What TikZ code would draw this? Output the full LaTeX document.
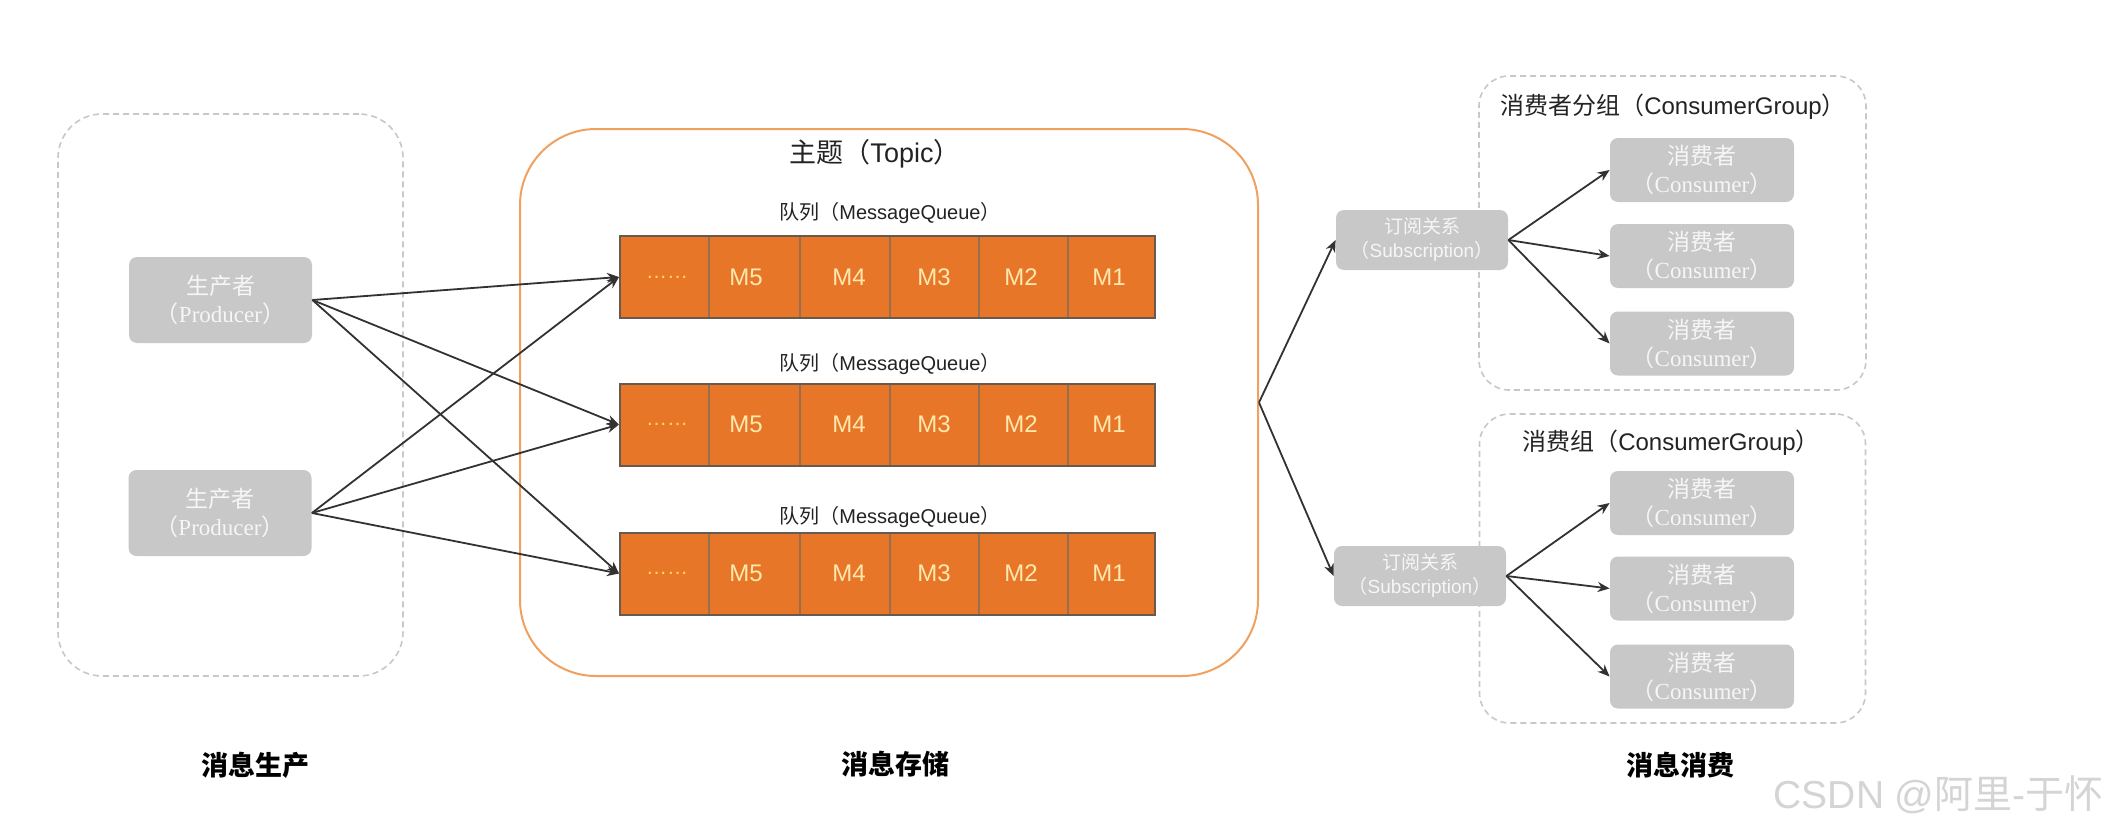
\documentclass[tikz,border=0pt]{standalone}
\usepackage{fontspec}
\setmainfont{Liberation Sans}
\newfontfamily\cjk{Noto Sans CJK SC}
\newfontfamily\serifl{Liberation Serif}
\usetikzlibrary{arrows.meta}
\definecolor{qorange}{RGB}{232,118,40}
\definecolor{qborder}{RGB}{105,90,80}
\definecolor{qdiv}{RGB}{150,110,80}
\definecolor{qtext}{RGB}{255,233,175}
\definecolor{qdots}{RGB}{255,215,90}
\definecolor{topicline}{RGB}{240,160,95}
\definecolor{boxgray}{RGB}{200,200,200}
\definecolor{dashgray}{RGB}{200,200,200}
\definecolor{boxtext}{RGB}{246,246,246}
\definecolor{arrowc}{RGB}{50,50,50}
\definecolor{titlec}{RGB}{35,35,35}
\definecolor{wmark}{RGB}{212,212,212}
\begin{document}
\begin{tikzpicture}[x=0.5pt,y=-0.5pt,
  dashbox/.style={draw=dashgray, line width=0.8pt, dash pattern=on 3pt off 2pt, rounded corners=#1, inner sep=0pt},
  topicbox/.style={draw=topicline, line width=1pt, rounded corners=38pt, inner sep=0pt},
  graybox/.style={fill=boxgray, rounded corners=4pt, inner sep=0pt, text=boxtext, align=center},
  prodbox/.style={graybox, minimum width=91.5pt, minimum height=43pt, font=\fontsize{11.5pt}{14pt}\selectfont},
  consbox/.style={graybox, minimum width=92pt, minimum height=32pt, font=\fontsize{11.5pt}{14pt}\selectfont},
  subbox/.style={graybox, minimum width=86pt, minimum height=30pt, font=\fontsize{9.5pt}{12pt}\selectfont},
  queuebox/.style={fill=qorange, draw=qborder, line width=1pt, minimum width=267.5pt, minimum height=41pt, inner sep=0pt},
  celldiv/.style={draw=qdiv, line width=0.7pt},
  mtext/.style={text=qtext, font=\fontsize{12pt}{14pt}\selectfont, inner sep=0pt},
  dotstext/.style={text=qdots, font=\fontsize{10.5pt}{12pt}\selectfont, inner sep=0pt},
  qlabel/.style={text=titlec, font=\fontsize{10pt}{12pt}\selectfont, inner sep=0pt},
  grouptitle/.style={text=titlec, font=\fontsize{12pt}{14pt}\selectfont, inner sep=0pt},
  bottomlabel/.style={text=black, font=\fontsize{13.5pt}{16pt}\selectfont\cjk\bfseries, inner sep=0pt},
  arr/.style={draw=arrowc, line width=0.9pt, -{Stealth[length=6pt,width=5pt]}}
]
\useasboundingbox[fill=white] (0,0) rectangle (2106,830);

% containers
\node[dashbox=22pt, minimum width=172.5pt, minimum height=281pt] (prodgroup) at (230.5,395) {};
\node[topicbox, minimum width=369pt, minimum height=273.5pt] (topic) at (889,402.5) {};
\node[dashbox=15pt, minimum width=193.5pt, minimum height=157pt] (cg1) at (1672.5,233) {};
\node[dashbox=15pt, minimum width=193pt, minimum height=154.5pt] (cg2) at (1672.5,568.5) {};

% titles
\node[text=titlec, font=\fontsize{13.5pt}{16pt}\selectfont, inner sep=0pt] (topictitle) at (875,154) {{\cjk 主题（}Topic{\cjk ）}};
\node[grouptitle] (cg1title) at (1673,107) {{\cjk 消费者分组（}ConsumerGroup{\cjk ）}};
\node[grouptitle] (cg2title) at (1671,443) {{\cjk 消费组（}ConsumerGroup{\cjk ）}};

% producers
\node[prodbox] (p1) at (220.5,300) {{\cjk 生产者}\\{\cjk （}{\serifl Producer}{\cjk ）}};
\node[prodbox] (p2) at (220,513) {{\cjk 生产者}\\{\cjk （}{\serifl Producer}{\cjk ）}};

% queues
\foreach \i/\y/\ly in {1/277/213,2/424.5/364,3/573.5/517} {
  \node[qlabel] (ql\i) at (890,\ly) {{\cjk 队列（}MessageQueue{\cjk ）}};
  \node[queuebox] (q\i) at (887.5,\y) {};
  \foreach \xd in {709,800,890,979,1068} {
    \draw[celldiv] (\xd,\y-40) -- (\xd,\y+40);
  }
  \node[dotstext] (q\i d) at (667,\y) {……};
  \node[mtext] (q\i m5) at (746,\y) {M5};
  \node[mtext] (q\i m4) at (849,\y) {M4};
  \node[mtext] (q\i m3) at (934,\y) {M3};
  \node[mtext] (q\i m2) at (1021,\y) {M2};
  \node[mtext] (q\i m1) at (1109,\y) {M1};
}

% subscriptions
\node[subbox] (s1) at (1422,240) {{\cjk 订阅关系}\\{\cjk （}Subscription{\cjk ）}};
\node[subbox] (s2) at (1420,576) {{\cjk 订阅关系}\\{\cjk （}Subscription{\cjk ）}};

% consumers
\foreach \n/\y in {11/170,12/256,13/343.5,21/503,22/588.5,23/676.5} {
  \node[consbox] (c\n) at (1702,\y) {{\cjk 消费者}\\{\cjk （}{\serifl Consumer}{\cjk ）}};
}

% connectors
\foreach \p in {p1,p2} {
  \foreach \q in {q1,q2,q3} {
    \draw[arr] (\p.east) -- (\q.west);
  }
}
\draw[arr] (topic.east) -- (s1.west);
\draw[arr] (topic.east) -- (s2.west);
\foreach \c in {11,12,13} { \draw[arr] (s1.east) -- (c\c.west); }
\foreach \c in {21,22,23} { \draw[arr] (s2.east) -- (c\c.west); }

% bottom labels
\node[bottomlabel] (lprod) at (255,765) {消息生产};
\node[bottomlabel] (lstore) at (895,764) {消息存储};
\node[bottomlabel] (lcons) at (1680,765) {消息消费};

% watermark
\node[text=wmark, font=\fontsize{19.5pt}{22pt}\selectfont, inner sep=0pt, anchor=east] (wm) at (2104,795) {CSDN @{\cjk 阿里}-{\cjk 于怀}};
\end{tikzpicture}
\end{document}
